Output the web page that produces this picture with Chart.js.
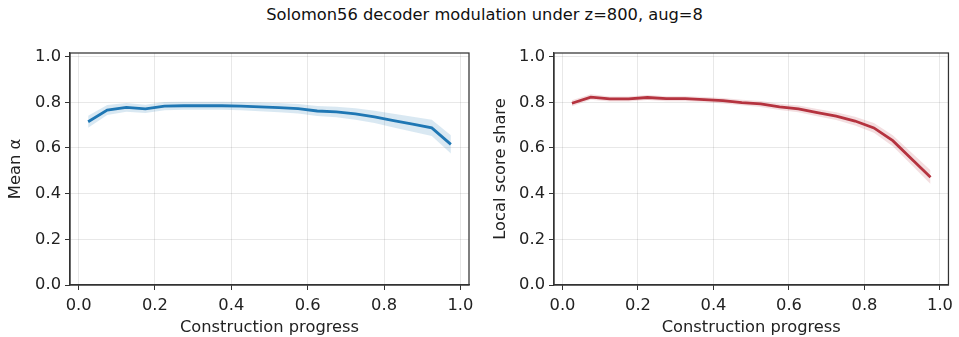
<!DOCTYPE html>
<html>
<head>
<meta charset="utf-8">
<script src="https://cdn.jsdelivr.net/npm/chart.js@4"></script>
<style>
  body { margin: 0; background: #fff; }
  #wrap { position: relative; width: 959px; height: 337px; font-family: "DejaVu Sans", sans-serif; }
  #title { position: absolute; left: 0; top: 5px; width: 969px; text-align: center; font-size: 16.3px; color: #111; }
  canvas { position: absolute; top: 0; }
</style>
</head>
<body>
<div id="wrap">
  <div id="title">Solomon56 decoder modulation under z=800, aug=8</div>
  <canvas id="leftChart" width="480" height="337" style="left:0"></canvas>
  <canvas id="rightChart" width="479" height="337" style="left:480px"></canvas>
</div>
<script>
// construction progress bins (centres)
const progress = [0.025, 0.075, 0.125, 0.175, 0.225, 0.275, 0.325, 0.375, 0.425, 0.475,
                  0.525, 0.575, 0.625, 0.675, 0.725, 0.775, 0.825, 0.875, 0.925, 0.975];

// mean alpha + band half-width
const meanAlpha = [0.715, 0.766, 0.778, 0.771, 0.783, 0.785, 0.785, 0.785, 0.783, 0.780,
                   0.777, 0.772, 0.762, 0.758, 0.749, 0.736, 0.720, 0.704, 0.688, 0.616];
const alphaErr  = [0.026, 0.022, 0.019, 0.018, 0.018, 0.018, 0.018, 0.018, 0.018, 0.019,
                   0.020, 0.021, 0.022, 0.023, 0.025, 0.027, 0.030, 0.033, 0.036, 0.040];

// local score share + band half-width
const localShare = [0.796, 0.823, 0.815, 0.815, 0.821, 0.816, 0.816, 0.812, 0.807, 0.799,
                    0.793, 0.780, 0.771, 0.755, 0.740, 0.718, 0.688, 0.632, 0.552, 0.472];
const shareErr   = [0.013, 0.012, 0.011, 0.011, 0.011, 0.011, 0.011, 0.011, 0.012, 0.012,
                    0.013, 0.014, 0.015, 0.016, 0.017, 0.019, 0.021, 0.024, 0.027, 0.030];

const xTicks = [0, 0.2, 0.4, 0.6, 0.8, 1.0];
const yTicks = [0, 0.2, 0.4, 0.6, 0.8, 1.0];

const FONT = "DejaVu Sans";
const FS = 16.3;

// top/right spines like matplotlib
const frame = {
  id: "frame",
  afterDraw(chart) {
    const a = chart.chartArea, c = chart.ctx;
    c.save();
    c.strokeStyle = "#333";
    c.lineWidth = 1.25;
    c.strokeRect(a.left, a.top, a.right - a.left, a.bottom - a.top);
    c.restore();
  },
};

function pts(ys) {
  return progress.map((x, i) => ({ x, y: ys[i] }));
}

function makeChart(id, ys, err, color, band, yLabel, pad, yWidth, titlePad) {
  const upper = ys.map((v, i) => v + err[i]);
  const lower = ys.map((v, i) => v - err[i]);
  return new Chart(document.getElementById(id), {
    type: "line",
    data: {
      datasets: [
        { data: pts(ys), borderColor: color, borderWidth: 2.8, pointRadius: 0, fill: false, order: 0 },
        { data: pts(upper), borderWidth: 0, pointRadius: 0, backgroundColor: band, fill: "+1", order: 1 },
        { data: pts(lower), borderWidth: 0, pointRadius: 0, fill: false, order: 1 },
      ],
    },
    options: {
      responsive: false,
      animation: false,
      layout: { padding: pad },
      plugins: { legend: { display: false }, tooltip: { enabled: false } },
      scales: {
        x: {
          type: "linear",
          min: -0.0225,
          max: 1.0225,
          afterBuildTicks: (s) => { s.ticks = xTicks.map((v) => ({ value: v })); },
          afterFit: (s) => { s.height = 52; },
          ticks: { color: "#222", font: { family: FONT, size: FS }, padding: 6,
                   callback: (v) => v.toFixed(1), maxRotation: 0 },
          grid: { color: "rgba(0,0,0,0.09)", tickColor: "#333", tickLength: 5, lineWidth: 1 },
          border: { color: "#333", width: 1.25 },
          title: { display: true, text: "Construction progress", color: "#222",
                   font: { family: FONT, size: FS }, padding: { top: 0, bottom: -1 } },
        },
        y: {
          min: 0,
          max: 1.016,
          afterBuildTicks: (s) => { s.ticks = yTicks.map((v) => ({ value: v })); },
          afterFit: (s) => { s.width = yWidth; },
          ticks: { color: "#222", font: { family: FONT, size: FS }, padding: 4,
                   callback: (v) => v.toFixed(1) },
          grid: { color: "rgba(0,0,0,0.09)", tickColor: "#333", tickLength: 5, lineWidth: 1 },
          border: { color: "#333", width: 1.25 },
          title: { display: true, text: yLabel, color: "#222",
                   font: { family: FONT, size: FS }, padding: { top: titlePad, bottom: 0 } },
        },
      },
    },
    plugins: [frame],
  });
}

makeChart("leftChart", meanAlpha, alphaErr, "#1f77b4", "rgba(31,119,180,0.17)",
          "Mean \u03B1", { left: 0, right: 11, top: 53, bottom: 0 }, 70, 6);
makeChart("rightChart", localShare, shareErr, "#b5333f", "rgba(181,51,63,0.16)",
          "Local score share", { left: 0, right: 4, top: 53, bottom: 0 }, 74, 11);
</script>
</body>
</html>
